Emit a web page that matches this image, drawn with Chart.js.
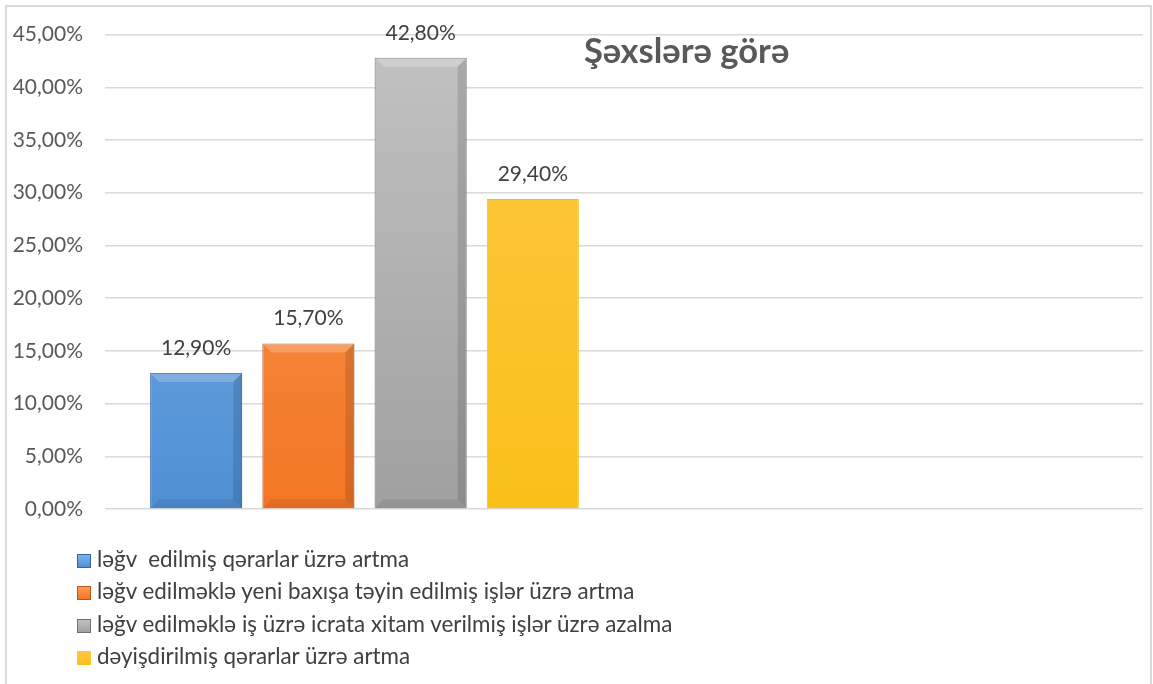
<!DOCTYPE html>
<html>
<head>
<meta charset="utf-8">
<script src="https://cdn.jsdelivr.net/npm/chart.js@4.4.1/dist/chart.umd.min.js"></script>
<style>
  html, body { margin: 0; padding: 0; background: #fff; }
  #wrap { position: relative; width: 1153px; height: 684px; overflow: hidden; font-family: Lato, "Open Sans", sans-serif; }
  #frame { position: absolute; left: 5px; top: 5px; width: 1147px; height: 720px; border: 2px solid #d9d9d9; box-sizing: border-box; }
  #chart { position: absolute; left: 0; top: 0; }
  #title { position: absolute; left: 584px; top: 29px; font: bold 34.5px Lato, "Open Sans", sans-serif; color: #595959; white-space: nowrap; }
  #legend { position: absolute; left: 77px; top: 545px; }
  .item { height: 32.3px; line-height: 28px; font-size: 22.4px; color: #404040; white-space: pre; }
  .box { display: inline-block; width: 14px; height: 14px; margin-right: 6px; vertical-align: -1px; box-sizing: border-box; }
</style>
</head>
<body>
<div id="wrap">
  <div id="frame"></div>
  <canvas id="chart" width="1153" height="684"></canvas>
  <div id="title"></div>
  <div id="legend"></div>
</div>
<script>
const chartTitle = "Şəxslərə görə"
const categories = ["", ""]
const seriesNames = [
  "ləğv  edilmiş qərarlar üzrə artma",
  "ləğv edilməklə yeni baxışa təyin edilmiş işlər üzrə artma",
  "ləğv edilməklə iş üzrə icrata xitam verilmiş işlər üzrə azalma",
  "dəyişdirilmiş qərarlar üzrə artma"
]
const series1 = [12.9, null]
const series2 = [15.7, null]
const series3 = [42.8, null]
const series4 = [29.4, null]
const yTicks = [0, 5, 10, 15, 20, 25, 30, 35, 40, 45]

// light / mid / edge shade per series
const shades = [
  ["#7cb4ea", "#4f8fd3", "#2f6aa8"],
  ["#fd9a58", "#f27624", "#b9561a"],
  ["#c2c2c2", "#a0a0a0", "#6f6f6f"],
  ["#ffc844", "#f9c01a", "#d9a400"]
]

const pct = v => v.toFixed(2).replace(".", ",") + "%"

function barFill(i) {
  return function(ctx) {
    const area = ctx.chart.chartArea
    if (!area) return shades[i][1]
    const g = ctx.chart.ctx.createLinearGradient(0, area.top, 0, area.bottom)
    g.addColorStop(0, shades[i][0])
    g.addColorStop(1, shades[i][1])
    return g
  }
}

document.getElementById("title").textContent = chartTitle

const legend = document.getElementById("legend")
seriesNames.forEach((name, i) => {
  const row = document.createElement("div")
  row.className = "item"
  const box = document.createElement("span")
  box.className = "box"
  box.style.background = "linear-gradient(" + shades[i][0] + "," + shades[i][1] + ")"
  if (i < 3) box.style.border = "1px solid " + shades[i][2]
  row.appendChild(box)
  row.appendChild(document.createTextNode(name))
  legend.appendChild(row)
})

// value labels above the bars + a soft bevel
const barDecor = {
  id: "barDecor",
  afterDatasetsDraw(chart) {
    const c = chart.ctx
    chart.data.datasets.forEach((ds, i) => {
      const meta = chart.getDatasetMeta(i)
      meta.data.forEach((bar, j) => {
        const v = ds.data[j]
        if (v == null) return
        const w = bar.width, x0 = bar.x - w / 2, x1 = bar.x + w / 2
        if (i < 3) {
          const b = 9
          c.save()
          c.fillStyle = "rgba(255,255,255,0.22)"
          c.beginPath()
          c.moveTo(x0, bar.y); c.lineTo(x1, bar.y); c.lineTo(x1 - b, bar.y + b); c.lineTo(x0 + b, bar.y + b)
          c.closePath(); c.fill()
          c.fillStyle = "rgba(0,0,0,0.12)"
          c.beginPath()
          c.moveTo(x1, bar.y); c.lineTo(x1, bar.base); c.lineTo(x1 - b, bar.base - b); c.lineTo(x1 - b, bar.y + b)
          c.closePath(); c.fill()
          c.fillStyle = "rgba(0,0,0,0.08)"
          c.beginPath()
          c.moveTo(x0, bar.base); c.lineTo(x1, bar.base); c.lineTo(x1 - b, bar.base - b); c.lineTo(x0 + b, bar.base - b)
          c.closePath(); c.fill()
          c.restore()
        }
        c.save()
        c.fillStyle = "#404040"
        c.font = "21px Lato, 'Open Sans', sans-serif"
        c.textAlign = "center"
        c.textBaseline = "middle"
        c.fillText(pct(v), bar.x, bar.y - 25)
        c.restore()
      })
    })
  }
}

const allSeries = [series1, series2, series3, series4]

new Chart("chart", {
  type: "bar",
  data: {
    labels: categories,
    datasets: allSeries.map((d, i) => ({
      label: seriesNames[i],
      data: d,
      backgroundColor: barFill(i),
      borderColor: i < 3 ? shades[i][2] : shades[i][1],
      borderWidth: 1,
      categoryPercentage: 0.865,
      barPercentage: 0.82
    }))
  },
  options: {
    responsive: false,
    animation: false,
    layout: { padding: { top: 34, right: 10, bottom: 175, left: 0 } },
    plugins: {
      legend: { display: false },
      tooltip: { enabled: false }
    },
    scales: {
      x: { display: false },
      y: {
        min: 0, max: 45,
        afterBuildTicks: s => { s.ticks = yTicks.map(v => ({ value: v })) },
        afterFit: s => { s.width = 105 },
        border: { display: false },
        grid: { color: "#d9d9d9", lineWidth: 1.5, drawTicks: false },
        ticks: {
          padding: 22,
          color: "#595959",
          font: { family: "Lato, 'Open Sans', sans-serif", size: 21 },
          callback: v => pct(v)
        }
      }
    }
  },
  plugins: [barDecor]
})
</script>
</body>
</html>
